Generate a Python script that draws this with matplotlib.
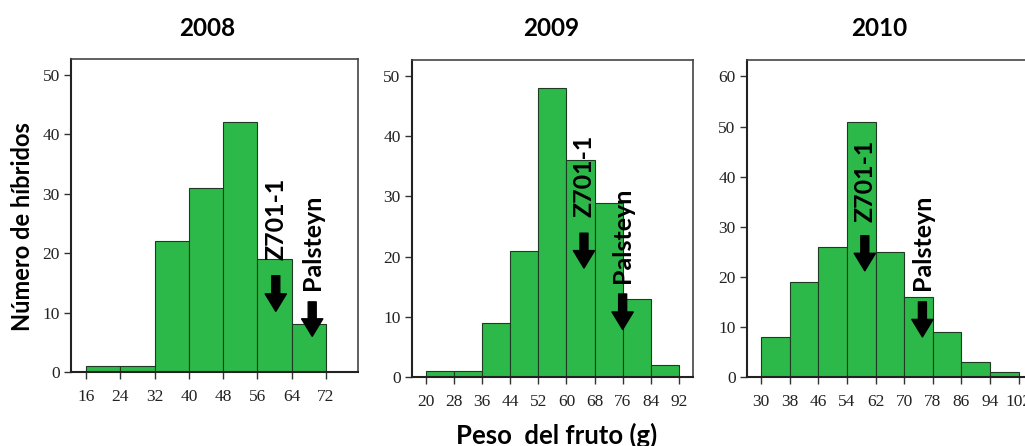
import matplotlib
matplotlib.use("Agg")
import matplotlib.pyplot as plt
import numpy as np

# bin edges (g) and counts per year
edges_2008 = [16, 24, 32, 40, 48, 56, 64, 72]
counts_2008 = [1, 1, 22, 31, 42, 19, 8]
edges_2009 = [20, 28, 36, 44, 52, 60, 68, 76, 84, 92]
counts_2009 = [1, 1, 9, 21, 48, 36, 29, 13, 2]
edges_2010 = [30, 38, 46, 54, 62, 70, 78, 86, 94, 102]
counts_2010 = [8, 19, 26, 51, 25, 16, 9, 3, 1]

years = ["2008", "2009", "2010"]
# marker labels: (name, x, text bottom y, arrow top y, arrow tip y)
marks_2008 = [("Z701-1", 60.3, 18.9, 16.2, 10.2), ("Palsteyn", 68.8, 13.8, 11.8, 6.0)]
marks_2009 = [("Z701-1", 65.0, 26.6, 23.9, 18.1), ("Palsteyn", 76.0, 15.6, 13.8, 7.9)]
marks_2010 = [("Z701-1", 59.0, 31.0, 28.2, 21.2), ("Palsteyn", 75.1, 17.4, 15.0, 8.0)]

green = "#2db84a"
tick_col = "#333333"
bold_font = "Lato"

fig = plt.figure(figsize=(10.25, 4.46), dpi=100)

panels = [
    (edges_2008, counts_2008, marks_2008, [0.0693, 0.166, 0.280, 0.702], (12.5, 79.5), 52.7, 50, 0.202),
    (edges_2009, counts_2009, marks_2009, [0.4017, 0.1547, 0.274, 0.711], (16, 95.9), 52.7, 50, 0.538),
    (edges_2010, counts_2010, marks_2010, [0.7285, 0.1547, 0.2793, 0.711], (26, 106), 63.3, 60, 0.858),
]

for (edges, counts, marks, pos, xlim, ytop, ymaxtick, tx), year in zip(panels, years):
    ax = fig.add_axes(pos)
    widths = np.diff(edges)
    ax.bar(edges[:-1], counts, width=widths, align="edge", color=green,
           edgecolor="#1e3a22", linewidth=0.8)
    ax.set_xlim(*xlim)
    ax.set_ylim(0, ytop)
    ax.set_xticks(edges)
    ax.set_yticks(np.arange(0, ymaxtick + 1, 10))
    ax.tick_params(axis="both", direction="out", length=5, width=1.0,
                   colors=tick_col, labelsize=12.5)
    ax.tick_params(axis="x", pad=7)
    ax.tick_params(axis="y", pad=3)
    for lbl in ax.get_xticklabels() + ax.get_yticklabels():
        lbl.set_fontfamily("Liberation Serif")
        lbl.set_color("#222222")
    for side in ["top", "right"]:
        ax.spines[side].set_color("#444444")
        ax.spines[side].set_linewidth(1.2)
    for side in ["left", "bottom"]:
        ax.spines[side].set_color("#222222")
        ax.spines[side].set_linewidth(1.5)

    for name, x, ytext, ya, yb in marks:
        ax.text(x, ytext, name, rotation=90, ha="center", va="bottom",
                fontsize=18, fontweight="bold", family=bold_font, color="black")
        ax.annotate("", xy=(x, yb), xytext=(x, ya),
                    arrowprops=dict(arrowstyle="simple,head_length=0.7,head_width=0.85,tail_width=0.32",
                                    color="black", mutation_scale=18, shrinkA=0, shrinkB=0))

    fig.text(tx, 1 - 28 / 446, year, ha="center", va="center",
             fontsize=17.5, fontweight="bold", family=bold_font)

fig.text(23 / 1025, 1 - 227 / 446, "Número de híbridos", rotation=90,
         ha="center", va="center", fontsize=17, fontweight="bold", family=bold_font)
fig.text(0.543, 1 - 423 / 446, "Peso  del fruto (g)", ha="center", va="top",
         fontsize=18.5, fontweight="bold", family=bold_font)

fig.savefig("out.png", dpi=100)
